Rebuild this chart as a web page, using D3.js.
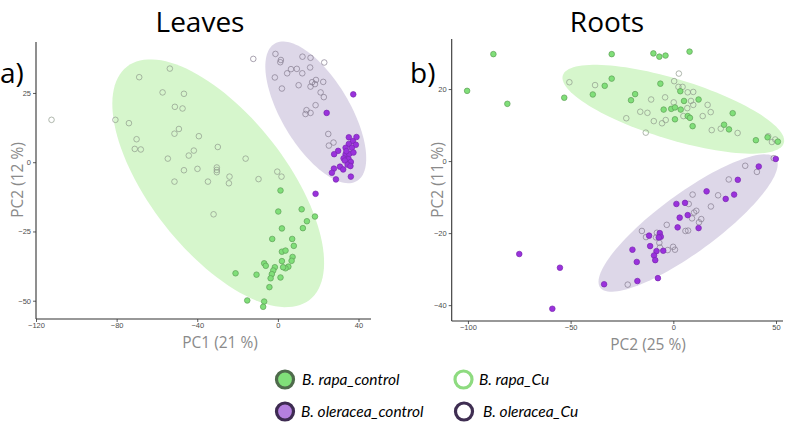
<!DOCTYPE html>
<html>
<head>
<meta charset="utf-8">
<script src="https://cdn.jsdelivr.net/npm/d3@7/dist/d3.min.js"></script>
<style>
  body { margin: 0; background: #fff; }
  svg { display: block; }
</style>
</head>
<body>
<svg id="chart" width="794" height="423"></svg>
<script>
// ---------------- DATA ----------------
const panelTitles = ["Leaves", "Roots"];
const panelLetters = ["a)", "b)"];
const xAxisTitles = ["PC1 (21 %)", "PC2 (25 %)"];
const yAxisTitles = ["PC2 (12 %)", "PC2 (11 %)"];
const leavesXTicks = [-120, -80, -40, 0, 40];
const leavesYTicks = [-50, -25, 0, 25];
const rootsXTicks = [-100, -50, 0, 50];
const rootsYTicks = [-40, -20, 0, 20];
const leavesXDomain = [-120, 46.2];
const leavesYDomain = [-56.6, 43.4];
const rootsXDomain = [-107.9, 53.4];
const rootsYDomain = [-44.4, 33.9];

const legendLabels = ["B. rapa_control", "B. rapa_Cu", "B. oleracea_control", "B. oleracea_Cu"];

// Leaves (PC1, PC2)
const leavesRapaControl = [
  [1.3,-10.2],[0.2,-17.8],[11.8,-17.0],[14.4,-21.3],[18.4,-19.6],[12.4,-23.8],[2.0,-23.9],
  [-2.8,-27.7],[7.1,-27.7],[7.9,-30.2],[2.0,-32.3],[3.8,-31.9],[7.3,-34.2],[2.0,-35.7],
  [6.8,-35.6],[5.2,-37.7],[3.8,-38.3],[2.6,-37.9],[-6.8,-36.5],[-6.0,-37.4],[-1.5,-37.9],
  [-2.3,-39.1],[-3.0,-40.4],[-3.6,-41.9],[1.3,-41.6],[-21.0,-40.1],[-10.6,-40.6],
  [-4.2,-45.1],[-15.2,-49.9],[-6.8,-50.3],[-7.3,-52.2]
];
const leavesRapaCu = [
  [-112.3,15.3],[-80.6,15.3],[-73.9,14.1],[-68.8,30.7],[-53.6,33.8],[-70.1,8.3],[-71.0,4.8],
  [-68.0,4.6],[-57.2,25.2],[-46.6,24.7],[-51.1,20.0],[-47.3,19.4],[-49.1,12.0],[-51.3,10.3],
  [-39.2,9.4],[-54.6,1.3],[-41.7,4.2],[-44.2,2.4],[-29.8,5.5],[-46.6,-2.9],[-39.9,-2.4],
  [-30.3,-1.9],[-30.3,-2.8],[-30.3,-3.6],[-51.3,-7.0],[-34.7,-7.0],[-24.0,-5.2],[-24.3,-7.6],
  [-31.9,-18.8],[-16.0,1.3],[-9.6,-6.1],[-0.3,-3.4],[1.8,-5.2]
];
const leavesOleraceaControl = [
  [37.4,24.5],[24.2,17.8],[18.7,-11.4],[35.2,9.0],[39.0,9.1],[37.2,7.6],[35.2,6.6],[38.7,6.3],
  [33.6,5.2],[36.7,5.2],[29.9,4.1],[27.9,2.9],[33.6,2.9],[35.4,3.0],[32.6,1.4],[35.1,1.1],
  [33.2,0.6],[36.2,0.1],[34.6,-0.9],[30.8,-1.6],[27.8,-2.3],[32.4,-2.6],[36.0,-1.4],
  [26.8,-3.8],[28.8,-6.2],[36.2,-5.2],[34.0,4.0],[37.5,3.5]
];
const leavesOleraceaCu = [
  [-12.2,37.3],[-1.2,39.1],[1.5,36.9],[1.2,36.1],[-1.5,30.6],[2.0,26.6],[4.6,32.1],[6.5,33.6],
  [9.4,33.7],[12.2,38.1],[16.2,37.7],[23.0,36.0],[12.1,32.1],[16.0,34.2],[10.3,27.8],
  [17.0,28.9],[18.9,29.7],[16.2,27.3],[18.4,28.2],[22.5,29.0],[21.2,25.2],[22.8,23.5],
  [14.2,18.8],[13.7,17.4],[16.2,17.8],[18.7,20.6],[25.0,10.2],[27.6,7.1],[25.3,6.0]
];

// Roots (PC2, PC2)
const rootsRapaControl = [
  [-87.6,29.7],[-100.4,19.5],[-80.8,15.9],[-53.1,17.6],[-30.0,29.7],[-9.7,29.9],[-6.8,29.0],
  [-3.8,29.3],[7.9,30.4],[-30.0,22.9],[-33.4,20.9],[-39.2,18.5],[-18.6,18.6],[-20.6,16.9],
  [-6.3,21.5],[3.4,19.4],[5.2,16.7],[12.3,17.1],[-4.7,14.3],[-1.0,14.5],[0.8,14.9],[3.6,14.3],
  [0.8,11.6],[7.0,12.5],[8.1,12.0],[9.4,9.7],[28.9,13.3],[24.7,10.1],[27.1,8.8],[40.2,5.8],
  [45.9,6.6],[50.9,5.4]
];
const rootsRapaCu = [
  [-50.6,21.9],[-38.1,21.1],[-10.8,17.1],[-22.9,11.9],[-16.1,13.7],[-12.6,13.4],[-13.4,7.9],
  [-9.5,11.1],[-5.5,10.5],[-3.7,11.4],[-4.0,17.7],[0.4,22.2],[2.7,24.3],[2.5,20.6],[7.0,19.1],
  [9.7,19.2],[0.2,16.3],[8.6,16.7],[9.7,15.6],[6.8,14.7],[4.9,12.5],[14.3,12.5],[16.7,15.6],
  [18.2,13.6],[18.7,8.6],[23.1,9.0],[31.3,7.8],[46.2,6.9],[48.0,5.3],[49.6,6.0],[4.5,20.6]
];
const rootsOleraceaControl = [
  [49.9,0.6],[41.6,-1.5],[31.4,-5.2],[29.6,-9.3],[25.5,-10.5],[16.2,-8.4],[1.5,-11.9],
  [5.7,-11.6],[7.0,-15.0],[3.1,-15.7],[2.1,-18.4],[12.3,-18.6],[-11.8,-20.7],[-6.6,-20.0],
  [-6.1,-21.0],[-7.1,-21.2],[-19.9,-24.6],[-11.3,-23.6],[-8.2,-25.0],[-4.9,-24.9],
  [-9.4,-26.2],[-8.8,-27.5],[-17.8,-28.0],[-17.5,-33.3],[-33.7,-34.2],[-7.5,-32.5],
  [-55.2,-29.6],[-75.0,-25.8],[-58.9,-41.0]
];
const rootsOleraceaCu = [
  [48.9,0.8],[35.0,-1.3],[40.7,-3.0],[27.0,-5.1],[21.8,-9.5],[18.3,-12.6],[9.4,-9.3],
  [7.5,-11.9],[11.2,-13.8],[10.1,-14.3],[9.1,-15.9],[13.6,-16.1],[12.5,-17.0],[-3.2,-17.7],
  [5.9,-19.4],[7.2,-19.3],[-15.3,-19.4],[-13.3,-21.1],[-8.4,-21.2],[-8.0,-19.9],[-6.8,-22.7],
  [-6.5,-24.0],[-2.7,-24.7],[-0.1,-23.8],[0.8,-24.6],[-22.2,-34.3]
];

// Confidence ellipses: [centerX, centerY, majorHalfX, majorHalfY, minorHalfX, minorHalfY] (data units)
const leavesRapaEllipse = [-29.6, -7.6, 45.3, -42.1, 26.6, 15.1];
const leavesOleraceaEllipse = [18.8, 18.0, 20.4, -24.8, 14.5, 6.3];
const rootsRapaEllipse = [0.0, 14.4, 53.8, -9.4, 4.3, 8.0];
const rootsOleraceaEllipse = [7.2, -17.2, 42.8, 17.9, 8.4, -6.6];

// ---------------- STYLE ----------------
const C = {
  rapaFill: "#80df79", rapaStroke: "#5e9f58",
  oleFill: "#9a32dc", oleStroke: "#7a28b0",
  rapaCuStroke: "#8e9a8b", oleCuStroke: "#857d8f",
  rapaEll: "#d6f6cc", oleEll: "#ddd7e8",
  axis: "#333", tick: "#4d4d4d", title: "#8a8a8a"
};
const R = 2.8;

const svg = d3.select("#chart");

function drawPanel(cfg) {
  const x = d3.scaleLinear().domain(cfg.xDomain).range([cfg.left, cfg.right]);
  const y = d3.scaleLinear().domain(cfg.yDomain).range([cfg.bottom, cfg.top]);
  const g = svg.append("g");

  // ellipses
  const ellLine = d3.line().x(d => x(d[0])).y(d => y(d[1])).curve(d3.curveLinearClosed);
  function ellPts(e) {
    const pts = [];
    for (let i = 0; i < 120; i++) {
      const t = i / 120 * 2 * Math.PI;
      pts.push([e[0] + e[2] * Math.cos(t) + e[4] * Math.sin(t),
                e[1] + e[3] * Math.cos(t) + e[5] * Math.sin(t)]);
    }
    return pts;
  }
  g.append("path").attr("d", ellLine(ellPts(cfg.rapaEll))).attr("fill", C.rapaEll);
  g.append("path").attr("d", ellLine(ellPts(cfg.oleEll))).attr("fill", C.oleEll);

  // axes
  const xAxis = d3.axisBottom(x).tickValues(cfg.xTicks).tickSize(3).tickPadding(1).tickSizeOuter(0);
  const yAxis = d3.axisLeft(y).tickValues(cfg.yTicks).tickSize(3).tickPadding(2).tickSizeOuter(0);
  const gx = g.append("g").attr("transform", `translate(0,${cfg.bottom})`).call(xAxis);
  const gy = g.append("g").attr("transform", `translate(${cfg.left},0)`).call(yAxis);
  [gx, gy].forEach(a => {
    a.select(".domain").remove();
    a.selectAll(".tick line").attr("stroke", C.axis).attr("stroke-width", 0.8);
    a.selectAll(".tick text").attr("fill", C.tick).style("font-family", "Liberation Sans, Arial, sans-serif").style("font-size", "7.5px");
  });
  g.append("line").attr("x1", cfg.left).attr("x2", cfg.left).attr("y1", cfg.top).attr("y2", cfg.bottom)
    .attr("stroke", C.axis).attr("stroke-width", 1.1);
  g.append("line").attr("x1", cfg.left).attr("x2", cfg.right).attr("y1", cfg.bottom).attr("y2", cfg.bottom)
    .attr("stroke", C.axis).attr("stroke-width", 1.1);

  // points
  function pts(data, fill, stroke) {
    g.append("g").selectAll("circle").data(data).join("circle")
      .attr("cx", d => x(d[0])).attr("cy", d => y(d[1])).attr("r", R)
      .attr("fill", fill).attr("stroke", stroke).attr("stroke-width", 0.7);
  }
  pts(cfg.rapaCu, "none", C.rapaCuStroke);
  pts(cfg.oleCu, "none", C.oleCuStroke);
  pts(cfg.rapaCtl, C.rapaFill, C.rapaStroke);
  pts(cfg.oleCtl, C.oleFill, C.oleStroke);

  // titles
  svg.append("text").attr("x", cfg.titleX).attr("y", 32).attr("text-anchor", "middle")
    .style("font-family", "Open Sans, sans-serif").style("font-size", "28px").attr("fill", "#000")
    .text(cfg.title);
  svg.append("text").attr("x", cfg.letterX).attr("y", 83)
    .style("font-family", "Open Sans, sans-serif").style("font-size", "28px").attr("fill", "#000")
    .text(cfg.letter);
  svg.append("text").attr("x", cfg.xTitleX).attr("y", cfg.bottom + 29).attr("text-anchor", "middle")
    .style("font-family", "Open Sans, sans-serif").style("font-size", "15.5px").attr("fill", C.title)
    .text(cfg.xTitle);
  svg.append("text").attr("transform", `translate(${cfg.yTitleX},180) rotate(-90)`).attr("text-anchor", "middle")
    .style("font-family", "Open Sans, sans-serif").style("font-size", "15.5px").attr("fill", C.title)
    .text(cfg.yTitle);
}

drawPanel({
  left: 36, right: 371, top: 42, bottom: 319,
  xDomain: leavesXDomain, yDomain: leavesYDomain, xTicks: leavesXTicks, yTicks: leavesYTicks,
  rapaEll: leavesRapaEllipse, oleEll: leavesOleraceaEllipse,
  rapaCtl: leavesRapaControl, rapaCu: leavesRapaCu, oleCtl: leavesOleraceaControl, oleCu: leavesOleraceaCu,
  title: panelTitles[0], titleX: 200, letter: panelLetters[0], letterX: 0,
  xTitle: xAxisTitles[0], xTitleX: 220, yTitle: yAxisTitles[0], yTitleX: 23
});
drawPanel({
  left: 451.7, right: 783, top: 39, bottom: 321,
  xDomain: rootsXDomain, yDomain: rootsYDomain, xTicks: rootsXTicks, yTicks: rootsYTicks,
  rapaEll: rootsRapaEllipse, oleEll: rootsOleraceaEllipse,
  rapaCtl: rootsRapaControl, rapaCu: rootsRapaCu, oleCtl: rootsOleraceaControl, oleCu: rootsOleraceaCu,
  title: panelTitles[1], titleX: 607, letter: panelLetters[1], letterX: 410,
  xTitle: xAxisTitles[1], xTitleX: 648, yTitle: yAxisTitles[1], yTitleX: 443
});

// legend
const legendItems = [
  { label: legendLabels[0], cx: 285, cy: 379.5, fill: "#80df79", stroke: "#4f6b4c", tx: 302 },
  { label: legendLabels[1], cx: 463.5, cy: 379.5, fill: "#fff", stroke: "#8edb80", tx: 479 },
  { label: legendLabels[2], cx: 285, cy: 411.5, fill: "#b47fdf", stroke: "#3e2b52", tx: 301 },
  { label: legendLabels[3], cx: 464, cy: 411.5, fill: "#fff", stroke: "#3f2e52", tx: 483 }
];
const lg = svg.append("g");
legendItems.forEach(d => {
  lg.append("circle").attr("cx", d.cx).attr("cy", d.cy).attr("r", 8.5)
    .attr("fill", d.fill).attr("stroke", d.stroke).attr("stroke-width", 3.2);
  lg.append("text").attr("x", d.tx).attr("y", d.cy + 5)
    .style("font-family", "Lato, sans-serif").style("font-style", "italic").style("font-size", "15.5px")
    .attr("fill", "#000").text(d.label);
});
</script>
</body>
</html>
